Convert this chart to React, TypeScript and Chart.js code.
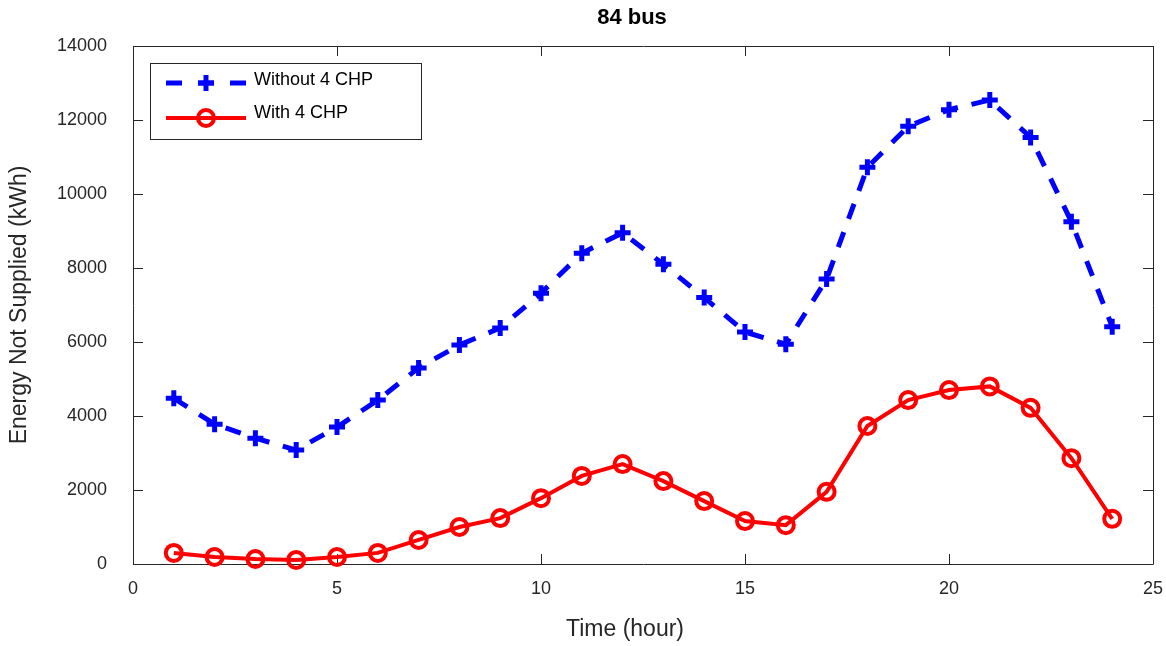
import React, { useEffect, useRef } from "react";
import { Chart, registerables } from "chart.js";

Chart.register(...registerables);

const hours = [1, 2, 3, 4, 5, 6, 7, 8, 9, 10, 11, 12, 13, 14, 15, 16, 17, 18, 19, 20, 21, 22, 23, 24];
const withoutCHP = [4480, 3780, 3400, 3080, 3700, 4430, 5300, 5920, 6380, 7320, 8400, 8950, 8100, 7200, 6270, 5940, 7700, 10720, 11830, 12280, 12540, 11530, 9250, 6410];
const withCHP = [300, 190, 135, 110, 190, 300, 650, 1000, 1240, 1780, 2380, 2700, 2240, 1700, 1160, 1050, 1950, 3730, 4430, 4700, 4800, 4220, 2860, 1220];
const xTicks = [0, 5, 10, 15, 20, 25];
const yTicks = [0, 2000, 4000, 6000, 8000, 10000, 12000, 14000];
const seriesNames = ["Without 4 CHP", "With 4 CHP"];
const chartTitle = "84 bus";
const xTitle = "Time (hour)";
const yTitle = "Energy Not Supplied (kWh)";

const FONT = "'Liberation Sans', Arial, Helvetica, sans-serif";
const AXIS_COLOR = "#262626";

const axesBox = {
  id: "axesBox",
  beforeDatasetsDraw(chart: any) {
    const { ctx, chartArea, scales } = chart;
    const { left, right, top, bottom } = chartArea;
    const tl = 10;
    ctx.save();
    ctx.strokeStyle = AXIS_COLOR;
    ctx.lineWidth = 1;
    ctx.beginPath();
    ctx.rect(Math.round(left) + 0.5, Math.round(top) + 0.5, Math.round(right - left), Math.round(bottom - top));
    for (const v of xTicks) {
      const px = Math.round(scales.x.getPixelForValue(v)) + 0.5;
      ctx.moveTo(px, bottom);
      ctx.lineTo(px, bottom - tl);
      ctx.moveTo(px, top);
      ctx.lineTo(px, top + tl);
    }
    for (const v of yTicks) {
      const py = Math.round(scales.y.getPixelForValue(v)) + 0.5;
      ctx.moveTo(left, py);
      ctx.lineTo(left + tl, py);
      ctx.moveTo(right, py);
      ctx.lineTo(right - tl, py);
    }
    ctx.stroke();
    ctx.restore();
  },
  afterDraw(chart: any) {
    const { ctx } = chart;
    ctx.save();
    ctx.textAlign = "center";
    ctx.textBaseline = "middle";
    ctx.fillStyle = "#000000";
    ctx.font = `bold 22px ${FONT}`;
    ctx.fillText(chartTitle, 632, 18);
    ctx.fillStyle = AXIS_COLOR;
    ctx.font = `23px ${FONT}`;
    ctx.fillText(xTitle, 625, 630);
    ctx.translate(20, 305);
    ctx.rotate(-Math.PI / 2);
    ctx.fillText(yTitle, 0, 0);
    ctx.restore();
  },
};

const boxLegend = {
  id: "boxLegend",
  afterDraw(chart: any) {
    const { ctx } = chart;
    const bx = 150, by = 63, bw = 271, bh = 76;
    ctx.save();
    ctx.fillStyle = "#ffffff";
    ctx.fillRect(bx, by, bw, bh);
    ctx.strokeStyle = AXIS_COLOR;
    ctx.lineWidth = 1;
    ctx.strokeRect(bx + 0.5, by + 0.5, bw, bh);

    const x0 = 166, x1 = 246, xm = 206;
    let y = 83;
    ctx.strokeStyle = "#0000ff";
    ctx.lineWidth = 5;
    ctx.lineCap = "butt";
    ctx.setLineDash([16, 16]);
    ctx.beginPath();
    ctx.moveTo(x0, y);
    ctx.lineTo(x1, y);
    ctx.stroke();
    ctx.setLineDash([]);
    ctx.beginPath();
    ctx.moveTo(xm - 8, y);
    ctx.lineTo(xm + 8, y);
    ctx.moveTo(xm, y - 8);
    ctx.lineTo(xm, y + 8);
    ctx.stroke();

    y = 118;
    ctx.strokeStyle = "#ff0000";
    ctx.lineWidth = 4;
    ctx.beginPath();
    ctx.moveTo(x0, y);
    ctx.lineTo(x1, y);
    ctx.stroke();
    ctx.beginPath();
    ctx.arc(xm, y, 8, 0, Math.PI * 2);
    ctx.stroke();

    ctx.fillStyle = "#000000";
    ctx.font = `18px ${FONT}`;
    ctx.textAlign = "left";
    ctx.textBaseline = "middle";
    ctx.fillText(seriesNames[0], 254, 80);
    ctx.fillText(seriesNames[1], 254, 113);
    ctx.restore();
  },
};

export default function App() {
  const canvasRef = useRef<HTMLCanvasElement | null>(null);

  useEffect(() => {
    const canvas = canvasRef.current;
    if (!canvas) return;
    const chart = new Chart(canvas, {
      type: "line",
      data: {
        datasets: [
          {
            label: seriesNames[0],
            data: hours.map((h, i) => ({ x: h, y: withoutCHP[i] })),
            borderColor: "#0000ff",
            backgroundColor: "#0000ff",
            borderWidth: 5,
            borderDash: [16, 14],
            pointStyle: "cross",
            pointRadius: 8,
            pointBorderWidth: 5,
            pointBorderColor: "#0000ff",
            pointBackgroundColor: "#0000ff",
            tension: 0,
            clip: false as any,
          },
          {
            label: seriesNames[1],
            data: hours.map((h, i) => ({ x: h, y: withCHP[i] })),
            borderColor: "#ff0000",
            backgroundColor: "rgba(0,0,0,0)",
            borderWidth: 4,
            pointStyle: "circle",
            pointRadius: 8,
            pointBorderWidth: 4,
            pointBorderColor: "#ff0000",
            pointBackgroundColor: "rgba(0,0,0,0)",
            tension: 0,
            clip: false as any,
          },
        ],
      },
      options: {
        responsive: false,
        animation: false,
        devicePixelRatio: 1,
        layout: { padding: { left: 0, right: 11, top: 46, bottom: 0 } },
        plugins: {
          legend: { display: false },
          tooltip: { enabled: false },
          title: { display: false },
        },
        scales: {
          x: {
            type: "linear",
            min: 0,
            max: 25,
            grid: { display: false, drawTicks: false },
            border: { display: false },
            afterBuildTicks: (scale: any) => {
              scale.ticks = xTicks.map((v) => ({ value: v }));
            },
            afterFit: (scale: any) => {
              scale.height = 82;
              scale.paddingLeft = 0;
              scale.paddingRight = 0;
            },
            ticks: {
              color: AXIS_COLOR,
              font: { family: FONT, size: 18 },
              padding: 14,
              maxRotation: 0,
              callback: (v: any) => String(v),
            },
            title: { display: false },
          },
          y: {
            type: "linear",
            min: 0,
            max: 14000,
            grid: { display: false, drawTicks: false },
            border: { display: false },
            afterBuildTicks: (scale: any) => {
              scale.ticks = yTicks.map((v) => ({ value: v }));
            },
            afterFit: (scale: any) => {
              scale.width = 133;
              scale.paddingTop = 0;
              scale.paddingBottom = 0;
            },
            ticks: {
              color: AXIS_COLOR,
              font: { family: FONT, size: 18 },
              padding: 26,
              callback: (v: any) => String(v),
            },
            title: { display: false },
          },
        },
      },
      plugins: [axesBox, boxLegend],
    });
    return () => chart.destroy();
  }, []);

  return (
    <div style={{ position: "absolute", left: 0, top: 0, width: 1166, height: 646, background: "#ffffff" }}>
      <canvas ref={canvasRef} width={1166} height={646} />
    </div>
  );
}
